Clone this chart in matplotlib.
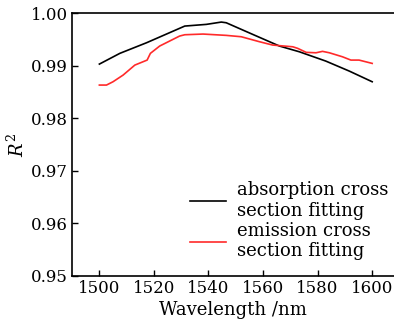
import matplotlib
matplotlib.use('Agg')
from matplotlib import pyplot as plt

plt.rcParams['font.family'] = 'DejaVu Serif'
plt.rcParams['mathtext.fontset'] = 'dejavuserif'
plt.rcParams['font.size'] = 12

# absorption cross section fitting (black)
abs_wl = [1500, 1507.5, 1517.3, 1531.3, 1539.2, 1544.7, 1546.5, 1556.2, 1566, 1573.3, 1583, 1591.6, 1600]
abs_r2 = [0.9903, 0.99234, 0.99436, 0.99753, 0.99785, 0.99829, 0.99816, 0.99595, 0.99373, 0.99264, 0.99087, 0.98897, 0.98694]

# emission cross section fitting (red)
emi_wl = [1500, 1502.6, 1505, 1508.7, 1513, 1517.5, 1518.7, 1522.1, 1529.4, 1531.3, 1538, 1546.5, 1552,
          1558.7, 1563.5, 1570.9, 1572.7, 1575.8, 1579.4, 1581.8, 1584.3, 1589.1, 1592.2, 1595.2, 1600]
emi_r2 = [0.98631, 0.98631, 0.98694, 0.98821, 0.99011, 0.99106, 0.99234, 0.99373, 0.99563, 0.99588, 0.99601,
          0.99576, 0.9955, 0.99455, 0.99392, 0.99359, 0.99329, 0.99253, 0.99245, 0.99272, 0.99245, 0.99169,
          0.99106, 0.99106, 0.99043]

fig = plt.figure(figsize=(3.94, 3.27), dpi=100)
ax = fig.add_axes([0.183, 0.156, 0.817, 0.804])
ax.plot(abs_wl, abs_r2, color='black', lw=1.2, label='absorption cross\nsection fitting')
ax.plot(emi_wl, emi_r2, color='#ff2a2a', lw=1.2, label='emission cross\nsection fitting')

ax.set_xlim(1490, 1608)
ax.set_ylim(0.95, 1.00)
ax.set_xticks([1500, 1520, 1540, 1560, 1580, 1600])
ax.set_yticks([0.95, 0.96, 0.97, 0.98, 0.99, 1.00])
ax.tick_params(direction='in', length=4.5, width=1, labelsize=12, pad=3)
ax.spines['right'].set_visible(False)
for s in ['left', 'top', 'bottom']:
    ax.spines[s].set_linewidth(1.2)

ax.set_xlabel('Wavelength /nm', fontsize=13, labelpad=3)
ax.set_ylabel('$R^2$', fontsize=13, labelpad=2)

ax.legend(loc='lower left', bbox_to_anchor=(0.338, 0.025), frameon=False, fontsize=13,
          handlelength=2.0, handletextpad=0.6, borderpad=0, labelspacing=0.1)

fig.savefig('out.png', dpi=100)
